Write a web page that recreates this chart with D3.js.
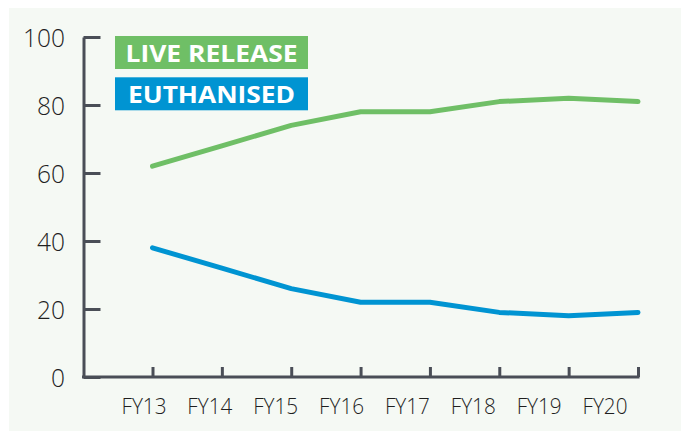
<!DOCTYPE html>
<html>
<head>
<meta charset="utf-8">
<script src="https://cdn.jsdelivr.net/npm/d3@7"></script>
<style>
  html, body { margin: 0; padding: 0; background: #ffffff; }
  svg { display: block; }
</style>
</head>
<body>
<svg id="chart" width="681" height="431"></svg>
<script>
const categories = ["FY13", "FY14", "FY15", "FY16", "FY17", "FY18", "FY19", "FY20"];
const liveRelease = [62, 68, 74, 78, 78, 81, 82, 81];
const euthanised = [38, 32, 26, 22, 22, 19, 18, 19];
const yTicks = [0, 20, 40, 60, 80, 100];
const legendLabels = ["LIVE RELEASE", "EUTHANISED"];

const GREEN = "#6fbf66";
const BLUE = "#0094d2";
const AXIS = "#4a4e57";
const TEXT = "#1f1f1f";

const svg = d3.select("#chart");

// background panel
svg.append("rect")
  .attr("x", 9).attr("y", 8)
  .attr("width", 672).attr("height", 423)
  .attr("fill", "#f5f9f4");

const axisX0 = 83.5;
const x = d3.scalePoint().domain(categories).range([152.5, 638]);
const xLabel = d3.scalePoint().domain(categories).range([144, 605]);
const y = d3.scaleLinear().domain([0, 100]).range([377, 37]);

// y axis
const yAxis = svg.append("g")
  .attr("transform", `translate(${axisX0},0)`)
  .call(d3.axisLeft(y).tickValues(yTicks).tickSize(-17).tickSizeOuter(0).tickPadding(18.5));
yAxis.select(".domain").attr("stroke", AXIS).attr("stroke-width", 3);
yAxis.selectAll(".tick line").attr("stroke", AXIS).attr("stroke-width", 3);
yAxis.selectAll(".tick text")
  .attr("fill", TEXT)
  .style("font-family", "'Open Sans', sans-serif")
  .style("font-weight", "300")
  .style("font-size", "26px")
  .attr("dy", "0.36em")
  .attr("textLength", d => String(d).length * 14)
  .attr("lengthAdjust", "spacingAndGlyphs");

// x axis
const xAxis = svg.append("g")
  .attr("transform", `translate(0,${y(0)})`)
  .call(d3.axisBottom(x).tickSize(-10).tickSizeOuter(0).tickFormat(""));
xAxis.select(".domain").remove();
xAxis.append("line")
  .attr("x1", axisX0 - 1.5).attr("x2", x.range()[1] + 1.5)
  .attr("y1", 0).attr("y2", 0)
  .attr("stroke", AXIS).attr("stroke-width", 3);
xAxis.selectAll(".tick line").attr("stroke", AXIS).attr("stroke-width", 3);

// x labels
svg.append("g").selectAll("text")
  .data(categories)
  .join("text")
  .attr("x", d => xLabel(d))
  .attr("y", 414)
  .attr("text-anchor", "middle")
  .attr("fill", TEXT)
  .attr("textLength", 45)
  .attr("lengthAdjust", "spacingAndGlyphs")
  .style("font-family", "'Open Sans', sans-serif")
  .style("font-weight", "300")
  .style("font-size", "22.5px")
  .text(d => d);

// lines
const line = d3.line()
  .x((d, i) => x(categories[i]))
  .y(d => y(d));

[[liveRelease, GREEN], [euthanised, BLUE]].forEach(([vals, col]) => {
  svg.append("path")
    .datum(vals)
    .attr("d", line)
    .attr("fill", "none")
    .attr("stroke", col)
    .attr("stroke-width", 5)
    .attr("stroke-linecap", "round")
    .attr("stroke-linejoin", "round");
});

// legend
const legend = svg.append("g");
const legendColors = [GREEN, BLUE];
const legendWidths = [172, 167];
legendLabels.forEach((lab, i) => {
  const top = 36 + i * 41.3;
  legend.append("rect")
    .attr("x", 115).attr("y", top)
    .attr("width", 193).attr("height", 33)
    .attr("fill", legendColors[i]);
  legend.append("text")
    .attr("x", 211.5).attr("y", top + 25.7)
    .attr("text-anchor", "middle")
    .attr("fill", "#ffffff")
    .attr("textLength", legendWidths[i])
    .attr("lengthAdjust", "spacingAndGlyphs")
    .style("font-family", "'Open Sans', sans-serif")
    .style("font-weight", "700")
    .style("font-size", "24px")
    .text(lab);
});
</script>
</body>
</html>
